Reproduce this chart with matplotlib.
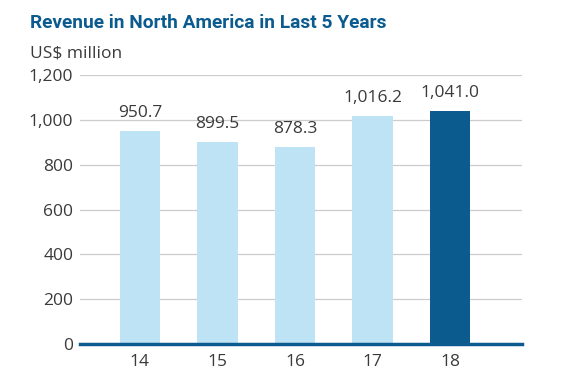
import matplotlib
matplotlib.use('Agg')
import matplotlib.pyplot as plt
import numpy as np

plt.rcParams['font.family'] = ['Open Sans', 'DejaVu Sans']

# Daten
years = ['14', '15', '16', '17', '18']
revenue = [950.7, 899.5, 878.3, 1016.2, 1041.0]
value_labels = ['950.7', '899.5', '878.3', '1,016.2', '1,041.0']
y_ticks = [0, 200, 400, 600, 800, 1000, 1200]
y_tick_labels = ['0', '200', '400', '600', '800', '1,000', '1,200']

light_blue = '#bde3f5'
dark_blue = '#0b5b8f'
text_grey = '#3a3a3a'

fig = plt.figure(figsize=(5.77, 3.88), dpi=100)
ax = fig.add_axes([0.139, 0.113, 0.766, 0.694])

x = np.arange(len(years))
colors = [light_blue] * (len(years) - 1) + [dark_blue]
ax.bar(x, revenue, width=0.52, color=colors, zorder=2)

for xi, v, lab in zip(x, revenue, value_labels):
    ax.text(xi, v + 62, lab, ha='center', va='baseline', fontsize=12.5, color=text_grey)

ax.set_xlim(-0.77, 4.93)
ax.set_ylim(0, 1200)
ax.set_yticks(y_ticks)
ax.set_yticklabels(y_tick_labels)
ax.set_xticks(x)
ax.set_xticklabels(years)
ax.tick_params(axis='both', length=0, labelsize=12.5, colors=text_grey)
ax.tick_params(axis='y', pad=5)
ax.tick_params(axis='x', pad=7)

ax.grid(axis='y', color='#cccccc', linewidth=0.9, zorder=0)
for s in ['top', 'right', 'left']:
    ax.spines[s].set_visible(False)
ax.spines['bottom'].set_color(dark_blue)
ax.spines['bottom'].set_linewidth(2.5)
ax.spines['bottom'].set_zorder(3)

fig.text(0.052, 0.928, 'Revenue in North America in Last 5 Years', fontsize=13.8,
         fontweight='bold', color=dark_blue, ha='left', va='baseline',
         family=['Roboto', 'DejaVu Sans'])
fig.text(0.052, 0.853, 'US$ million', fontsize=12.5, color=text_grey, ha='left', va='baseline')

fig.savefig('out.png', dpi=100)
